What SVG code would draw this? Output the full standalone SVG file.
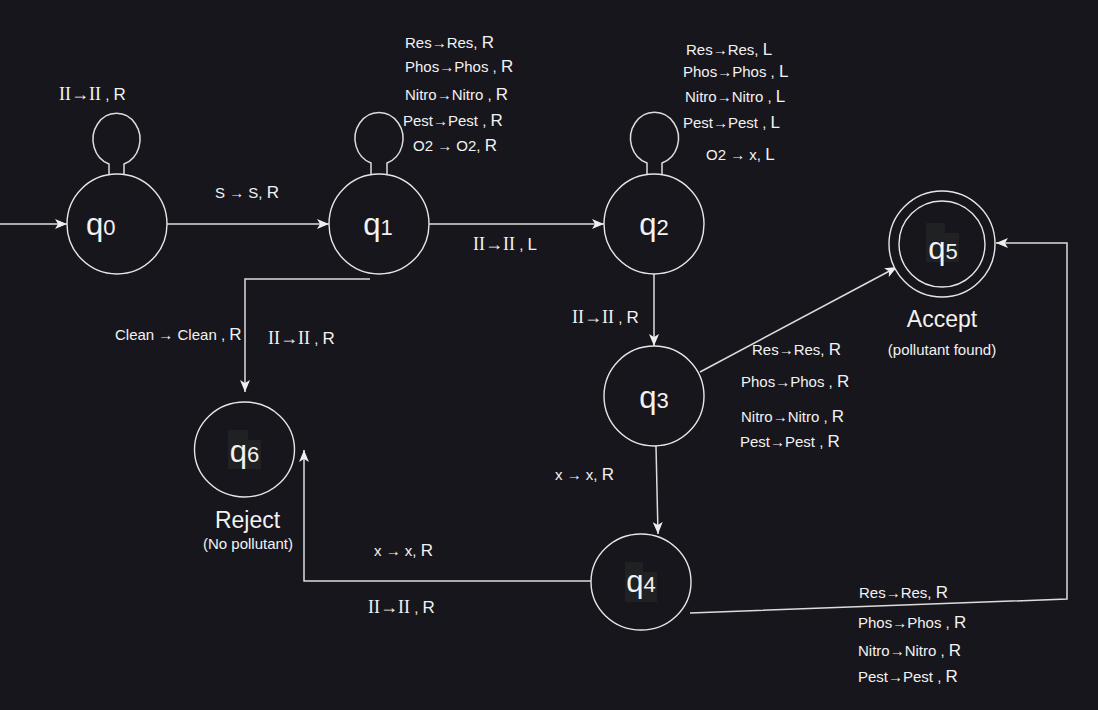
<svg xmlns="http://www.w3.org/2000/svg" width="1098" height="710" viewBox="0 0 1098 710">
<defs>
<style>
.bg{fill:#18161d}
.st{fill:#18161d;stroke:#e6e6e6;stroke-width:1.4}
.ln{fill:none;stroke:#dcdcdc;stroke-width:1.5}
.hl{fill:#1f2122}
text{font-family:"Liberation Sans",Arial,sans-serif;fill:#f2f2f2}
.lb{font-size:15px}
.big{font-size:17px}
.sf{font-family:"Liberation Serif","Times New Roman",serif;font-size:18px}
.q{font-size:31px}
.d{font-size:22px}
.ttl{font-size:23px}
.sub{font-size:15px}
</style>
<marker id="ah" viewBox="0 0 12 10" refX="12" refY="5" markerWidth="12" markerHeight="10" markerUnits="userSpaceOnUse" orient="auto">
<path d="M0,0 L12,5 L0,10 L3,5 Z" fill="#eeeeee"/>
</marker>
</defs>
<rect class="bg" x="0" y="0" width="1098" height="710"/>

<g id="connectors">
<path class="ln" d="M0,224 L67,224" marker-end="url(#ah)"/>
<path class="ln" d="M167,224 L329,224" marker-end="url(#ah)"/>
<path class="ln" d="M429,224 L604,224" marker-end="url(#ah)"/>
<path class="ln" d="M654,274 L654,346" marker-end="url(#ah)"/>
<path class="ln" d="M700,372 L897,267" marker-end="url(#ah)"/>
<path class="ln" d="M656,446 L658,534" marker-end="url(#ah)"/>
<path class="ln" d="M370,279 L245,279 L245,392" marker-end="url(#ah)"/>
<path class="ln" d="M591,581 L304,581 L304,450" marker-end="url(#ah)"/>
<path class="ln" d="M690,613 L1067,599 L1067,243 L996,243" marker-end="url(#ah)"/>
<path class="ln" d="M109,174 L109,164 A23.5,26 0 1 1 124,164 L124,174"/>
<path class="ln" d="M371,174 L371,163 A24,26 0 1 1 387,163 L387,174"/>
<path class="ln" d="M647,174 L647,163 A24,26 0 1 1 662,163 L662,174"/>
</g>

<g id="labels">
<text x="59" y="100"><tspan class="sf">II→II</tspan><tspan class="lb"> , </tspan><tspan class="big">R</tspan></text>
<text x="215" y="198" class="lb">S → S, <tspan class="big">R</tspan></text>

<text x="405" y="48" class="lb">Res→Res, <tspan class="big">R</tspan></text>
<text x="405" y="72" class="lb">Phos→Phos , <tspan class="big">R</tspan></text>
<text x="405" y="100" class="lb">Nitro→Nitro , <tspan class="big">R</tspan></text>
<text x="403" y="126" class="lb">Pest→Pest , <tspan class="big">R</tspan></text>
<text x="413" y="151" class="lb">O2 → O2, <tspan class="big">R</tspan></text>

<text x="686" y="55" class="lb">Res→Res, <tspan class="big">L</tspan></text>
<text x="683" y="77" class="lb">Phos→Phos , <tspan class="big">L</tspan></text>
<text x="685" y="102" class="lb">Nitro→Nitro , <tspan class="big">L</tspan></text>
<text x="683" y="128" class="lb">Pest→Pest , <tspan class="big">L</tspan></text>
<text x="706" y="160" class="lb">O2 → x, <tspan class="big">L</tspan></text>

<text x="473" y="250"><tspan class="sf">II→II</tspan><tspan class="lb"> , </tspan><tspan class="big">L</tspan></text>
<text x="115" y="340" class="lb">Clean → Clean , <tspan class="big">R</tspan></text>
<text x="268" y="344"><tspan class="sf">II→II</tspan><tspan class="lb"> , </tspan><tspan class="big">R</tspan></text>
<text x="572" y="323"><tspan class="sf">II→II</tspan><tspan class="lb"> , </tspan><tspan class="big">R</tspan></text>

<text x="752" y="355" class="lb">Res→Res, <tspan class="big">R</tspan></text>
<text x="741" y="387" class="lb">Phos→Phos , <tspan class="big">R</tspan></text>
<text x="741" y="422" class="lb">Nitro→Nitro , <tspan class="big">R</tspan></text>
<text x="740" y="447" class="lb">Pest→Pest , <tspan class="big">R</tspan></text>
<text x="555" y="480" class="lb">x → x, <tspan class="big">R</tspan></text>

<text x="374" y="556" class="lb">x → x, <tspan class="big">R</tspan></text>
<text x="368" y="613"><tspan class="sf">II→II</tspan><tspan class="lb"> , </tspan><tspan class="big">R</tspan></text>

<text x="859" y="598" class="lb">Res→Res, <tspan class="big">R</tspan></text>
<text x="858" y="628" class="lb">Phos→Phos , <tspan class="big">R</tspan></text>
<text x="858" y="656" class="lb">Nitro→Nitro , <tspan class="big">R</tspan></text>
<text x="858" y="682" class="lb">Pest→Pest , <tspan class="big">R</tspan></text>
</g>

<g id="q0">
<circle class="st" cx="117" cy="224" r="50"/>
<text x="86" y="235"><tspan class="q">q</tspan><tspan class="d">0</tspan></text>
</g>
<g id="q1">
<circle class="st" cx="379" cy="224" r="50"/>
<text x="378" y="235" text-anchor="middle"><tspan class="q">q</tspan><tspan class="d">1</tspan></text>
</g>
<g id="q2">
<circle class="st" cx="654" cy="224" r="50"/>
<text x="654" y="235" text-anchor="middle"><tspan class="q">q</tspan><tspan class="d">2</tspan></text>
</g>
<g id="q3">
<circle class="st" cx="654" cy="396" r="50"/>
<text x="654" y="408" text-anchor="middle"><tspan class="q">q</tspan><tspan class="d">3</tspan></text>
</g>
<g id="q4">
<ellipse class="st" cx="641" cy="582" rx="50" ry="48"/>
<rect class="hl" x="625" y="562" width="18" height="40"/>
<rect class="hl" x="643" y="572" width="14" height="30"/>
<text x="641" y="592" text-anchor="middle"><tspan class="q">q</tspan><tspan class="d">4</tspan></text>
</g>
<g id="q5">
<circle class="st" cx="942" cy="244" r="53"/>
<circle class="st" cx="942" cy="244" r="43"/>
<rect class="hl" x="926" y="223" width="19" height="39"/>
<rect class="hl" x="945" y="233" width="14" height="29"/>
<text x="943" y="259" text-anchor="middle"><tspan class="q">q</tspan><tspan class="d">5</tspan></text>
<text x="942" y="327" text-anchor="middle" class="ttl">Accept</text>
<text x="942" y="355" text-anchor="middle" class="sub">(pollutant found)</text>
</g>
<g id="q6">
<ellipse class="st" cx="244.5" cy="449.5" rx="50" ry="47.5"/>
<rect class="hl" x="228" y="430" width="20" height="39"/>
<rect class="hl" x="248" y="440" width="13" height="29"/>
<text x="244.5" y="462" text-anchor="middle"><tspan class="q">q</tspan><tspan class="d">6</tspan></text>
<text x="247.5" y="528" text-anchor="middle" class="ttl">Reject</text>
<text x="248" y="549" text-anchor="middle" class="sub">(No pollutant)</text>
</g>
</svg>
